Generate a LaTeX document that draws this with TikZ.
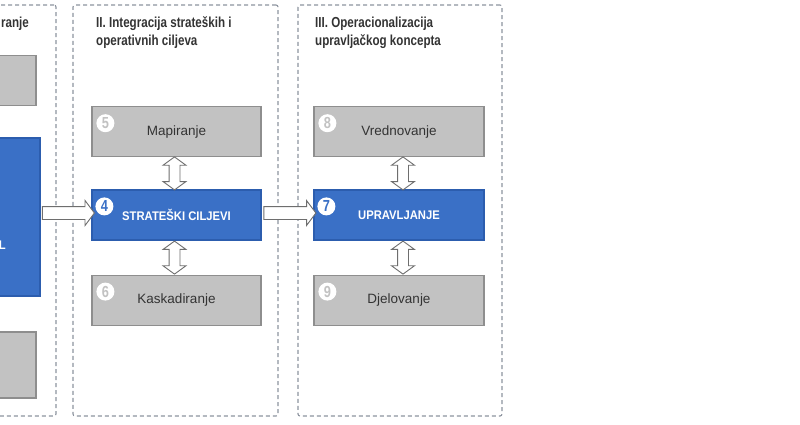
\documentclass[tikz,border=0pt]{standalone}
\usepackage{fontspec}
\setmainfont{Liberation Sans}
\newfontfamily\headfont{Liberation Sans}[FakeStretch=0.8]
\newfontfamily\boxfont{Liberation Sans}[FakeStretch=0.9]
\usetikzlibrary{positioning,shapes.arrows,calc}
\definecolor{PanelLine}{HTML}{8C939E}
\definecolor{TitleText}{HTML}{333333}
\definecolor{BoxBlue}{HTML}{3A70C6}
\definecolor{BoxBlueLine}{HTML}{2C5DAE}
\definecolor{BoxGray}{HTML}{C2C2C2}
\definecolor{BoxGrayLine}{HTML}{8E8E8E}
\definecolor{ArrowLine}{HTML}{6E6E6E}

\begin{document}
\begin{tikzpicture}[
  x=1pt,y=-1pt,node distance=32pt,
  panel/.style={draw=PanelLine,line width=1.1pt,dash pattern=on 4pt off 3pt,rounded corners=2pt,minimum height=411pt,inner sep=0pt},
  phasetitle/.style={anchor=base west,inner sep=0pt,align=left,text=TitleText,font=\headfont\bfseries\fontsize{14.5}{18}\selectfont},
  graybox/.style={draw=BoxGrayLine,line width=1.2pt,fill=BoxGray,minimum width=169pt,minimum height=50pt,text=TitleText,font=\fontsize{13.5}{15}\selectfont},
  bluebox/.style={draw=BoxBlueLine,line width=1.2pt,fill=BoxBlue,minimum width=169pt,minimum height=50pt,text=white,font=\boxfont\bfseries\fontsize{12.5}{15}\selectfont},
  badge/.style={circle,fill=white,inner sep=0pt,minimum size=18pt,font=\headfont\bfseries\fontsize{16}{16}\selectfont},
  rightarrow/.style={single arrow,draw=ArrowLine,fill=white,line width=0.9pt,inner sep=0pt,inner ysep=6pt,single arrow head extend=6pt,single arrow tip angle=106,minimum height=52pt},
  updownarrow/.style={double arrow,rotate=90,draw=ArrowLine,fill=white,line width=0.9pt,inner sep=0pt,inner ysep=5pt,double arrow head extend=6pt,double arrow tip angle=108,minimum height=33pt}
]
  \useasboundingbox (0,0) rectangle (800,424);
  \clip (0,0) rectangle (800,424);

  \node[panel,minimum width=206pt] (phaseA) at (-47,210.5) {};
  \node[panel,minimum width=205pt] (phaseB) at (175.5,210.5) {};
  \node[panel,minimum width=204pt] (phaseC) at (400,210.5) {};

  \node[phasetitle,anchor=base east] (titleA) at (29,27) {ranje};
  \node[phasetitle] (titleB) at (96,45) {II. Integracija strateških i\\operativnih ciljeva};
  \node[phasetitle] (titleC) at (315,45) {III. Operacionalizacija\\upravljačkog koncepta};

  \node[graybox,minimum width=170pt] (topA) at (-49,80.5) {};
  \node[bluebox,minimum width=170pt,minimum height=158pt] (mainA) at (-45,217) {};
  \node[graybox,minimum width=170pt,minimum height=66pt] (bottomA) at (-49,365) {};
  \node[anchor=base east,inner sep=0pt,text=white,font=\boxfont\bfseries\fontsize{12.5}{15}\selectfont] (mainAtext) at (6,249) {L};

  \node[bluebox] (goals) at (176.5,215) {STRATEŠKI CILJEVI};
  \node[graybox,above=of goals] (mapping) {Mapiranje};
  \node[graybox,below=34pt of goals] (cascading) {Kaskadiranje};

  \node[bluebox,minimum width=170pt] (control) at (399,215) {UPRAVLJANJE};
  \node[graybox,minimum width=170pt,above=of control] (valuing) {Vrednovanje};
  \node[graybox,minimum width=170pt,below=34pt of control] (acting) {Djelovanje};

  \node[badge,text=BoxBlue] (badge4) at ($(goals.north west)+(13,17)$) {4};
  \node[badge,text=BoxGray] (badge5) at ($(mapping.north west)+(14,17)$) {5};
  \node[badge,text=BoxGray] (badge6) at ($(cascading.north west)+(14,17)$) {6};
  \node[badge,text=BoxBlue] (badge7) at ($(control.north west)+(13,17)$) {7};
  \node[badge,text=BoxGray] (badge8) at ($(valuing.north west)+(14,17)$) {8};
  \node[badge,text=BoxGray] (badge9) at ($(acting.north west)+(14,17)$) {9};

  \node[rightarrow] (arrowAB) at ($(mainA.east |- goals.west)!0.5!(goals.west)+(0,-2)$) {};
  \node[rightarrow] (arrowBC) at ($(goals.east)!0.5!(control.west)+(0,-2)$) {};

  \node[updownarrow] (arrow54) at ($(mapping.south)!0.5!(goals.north)+(-2,0)$) {};
  \node[updownarrow] (arrow46) at ($(goals.south)!0.5!(cascading.north)+(-2,0)$) {};
  \node[updownarrow] (arrow87) at ($(valuing.south)!0.5!(control.north)+(4,0)$) {};
  \node[updownarrow] (arrow79) at ($(control.south)!0.5!(acting.north)+(4,0)$) {};
\end{tikzpicture}
\end{document}
